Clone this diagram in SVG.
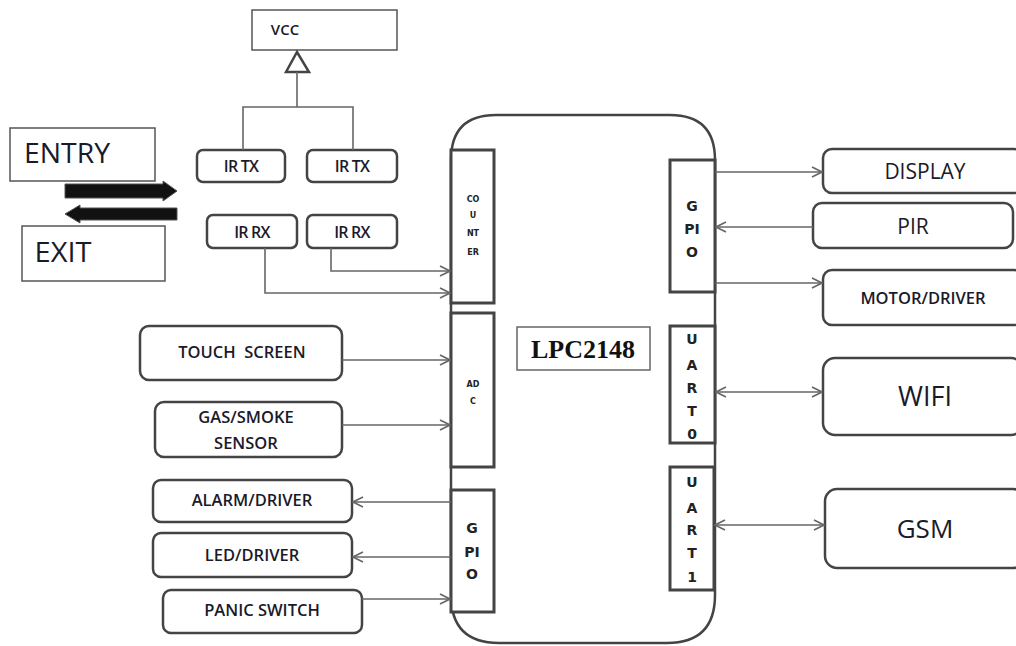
<svg xmlns="http://www.w3.org/2000/svg" width="1016" height="646" viewBox="0 0 1016 646">
<style>
.box{fill:#fff;stroke:#444;stroke-width:2.5}
.sq{fill:#fff;stroke:#555;stroke-width:1.5}
.mod{fill:#fff;stroke:#444;stroke-width:3}
.ln{fill:none;stroke:#666;stroke-width:1.6}
.t{font-family:"Open Sans","DejaVu Sans",sans-serif;fill:#1a1a2a;text-anchor:middle;font-weight:600}
.b{font-family:"Open Sans","DejaVu Sans",sans-serif;fill:#1a1a2a;text-anchor:middle;font-weight:normal}
.m{font-family:"DejaVu Sans",sans-serif;font-weight:bold;fill:#222;text-anchor:middle}
</style>
<defs>
<marker id="ah" viewBox="0 0 12 12" refX="11" refY="6" markerWidth="12" markerHeight="12" markerUnits="userSpaceOnUse" orient="auto-start-reverse">
<path d="M1,1 L11,6 L1,11" fill="none" stroke="#666" stroke-width="1.6"/>
</marker>
</defs>

<g id="lpc">
<path class="box" d="M451,160 Q451,115 496,115 L670,115 Q715,115 715,160 L715,595 Q715,643 667,643 L499,643 Q451,643 451,595 Z"/>
<rect x="517" y="327" width="133" height="43" fill="#fff" stroke="#666" stroke-width="1.5"/>
<text x="583" y="358" font-family="Liberation Serif,serif" font-weight="bold" font-size="26" fill="#111" text-anchor="middle">LPC2148</text>
</g>
<g id="counter">
<rect class="mod" x="451" y="150" width="43" height="153"/>
<text class="m" font-size="8" x="473" y="202">CO</text>
<text class="m" font-size="8" x="473" y="218">U</text>
<text class="m" font-size="8" x="473" y="236">NT</text>
<text class="m" font-size="8" x="473" y="255">ER</text>
</g>
<g id="adc">
<rect class="mod" x="451" y="313" width="43" height="154"/>
<text class="m" font-size="8" x="473" y="387">AD</text>
<text class="m" font-size="8" x="473" y="404">C</text>
</g>
<g id="gpio-left">
<rect class="mod" x="451" y="490" width="43" height="122"/>
<text class="m" font-size="14" x="472" y="533">G</text>
<text class="m" font-size="14" x="472" y="557">PI</text>
<text class="m" font-size="14" x="472" y="579">O</text>
</g>
<g id="gpio-right">
<rect class="mod" x="670" y="160" width="45" height="132"/>
<text class="m" font-size="14" x="692" y="211">G</text>
<text class="m" font-size="14" x="692" y="234">PI</text>
<text class="m" font-size="14" x="692" y="257">O</text>
</g>
<g id="uart0">
<rect class="mod" x="670" y="326" width="45" height="117"/>
<text class="m" font-size="14" x="692" y="344">U</text>
<text class="m" font-size="14" x="692" y="370">A</text>
<text class="m" font-size="14" x="692" y="393">R</text>
<text class="m" font-size="14" x="692" y="416">T</text>
<text class="m" font-size="14" x="692" y="439">0</text>
</g>
<g id="uart1">
<rect class="mod" x="670" y="467" width="44" height="123"/>
<text class="m" font-size="14" x="692" y="487">U</text>
<text class="m" font-size="14" x="692" y="513">A</text>
<text class="m" font-size="14" x="692" y="535">R</text>
<text class="m" font-size="14" x="692" y="558">T</text>
<text class="m" font-size="14" x="692" y="582">1</text>
</g>

<g id="vcc">
<rect class="sq" x="252" y="10" width="145" height="40"/>
<text class="t" x="285" y="35" font-size="15">VCC</text>
</g>
<g id="entry">
<rect class="sq" x="10" y="128" width="145" height="53"/>
<text class="b" x="67" y="163" font-size="28" textLength="86" lengthAdjust="spacingAndGlyphs">ENTRY</text>
</g>
<g id="exit">
<rect class="sq" x="22" y="226" width="143" height="55"/>
<text class="b" x="63" y="262" font-size="28" textLength="57" lengthAdjust="spacingAndGlyphs">EXIT</text>
</g>
<g id="irtx1"><rect class="box" x="197" y="150" width="88" height="32" rx="6"/><text class="t" x="241" y="172" font-size="16" letter-spacing="-0.8">IR TX</text></g>
<g id="irtx2"><rect class="box" x="307" y="150" width="90" height="32" rx="6"/><text class="t" x="352" y="172" font-size="16" letter-spacing="-0.8">IR TX</text></g>
<g id="irrx1"><rect class="box" x="207" y="215" width="90" height="33" rx="6"/><text class="t" x="252" y="238" font-size="16" letter-spacing="-0.8">IR RX</text></g>
<g id="irrx2"><rect class="box" x="307" y="215" width="90" height="33" rx="6"/><text class="t" x="352" y="238" font-size="16" letter-spacing="-0.8">IR RX</text></g>

<g id="touch"><rect class="box" x="140" y="326" width="202" height="54" rx="9"/><text class="t" x="242" y="358" font-size="16.5" xml:space="preserve">TOUCH  SCREEN</text></g>
<g id="gas"><rect class="box" x="155" y="402" width="187" height="55" rx="9"/><text class="t" x="246" y="423" font-size="16.5">GAS/SMOKE</text><text class="t" x="246" y="449" font-size="16.5">SENSOR</text></g>
<g id="alarm"><rect class="box" x="153" y="480" width="199" height="42" rx="8"/><text class="t" x="252" y="506" font-size="16.5">ALARM/DRIVER</text></g>
<g id="led"><rect class="box" x="153" y="533" width="199" height="44" rx="8"/><text class="t" x="252" y="561" font-size="16.5">LED/DRIVER</text></g>
<g id="panic"><rect class="box" x="163" y="590" width="199" height="43" rx="8"/><text class="t" x="262" y="616" font-size="16.5">PANIC SWITCH</text></g>

<g id="display"><rect class="box" x="823" y="149" width="200" height="44" rx="9"/><text class="b" x="925" y="179" font-size="21">DISPLAY</text></g>
<g id="pir"><rect class="box" x="813" y="203" width="200" height="45" rx="9"/><text class="b" x="913" y="234" font-size="21">PIR</text></g>
<g id="motor"><rect class="box" x="823" y="270" width="200" height="55" rx="9"/><text class="t" x="923" y="304" font-size="16.5">MOTOR/DRIVER</text></g>
<g id="wifi"><rect class="box" x="823" y="358" width="200" height="77" rx="12"/><text class="b" x="925" y="406" font-size="27">WIFI</text></g>
<g id="gsm"><rect class="box" x="825" y="489" width="200" height="79" rx="12"/><text class="b" x="925" y="538" font-size="26">GSM</text></g>

<g id="connectors">
<polygon points="286,72 297,52 309,72" fill="#fff" stroke="#444" stroke-width="2.5"/>
<path class="ln" d="M297,72 V107 M243,150 V107 H353 V150"/>
<path d="M65,184 H163 V181 L177,191 L163,201 V198 H65 Z" fill="#111" stroke="#555" stroke-width="1"/>
<path d="M177,208 H80 V205 L65,214 L80,223 V220 H177 Z" fill="#111" stroke="#555" stroke-width="1"/>
<path class="ln" d="M331,248 V271 H450" marker-end="url(#ah)"/>
<path class="ln" d="M265,248 V293 H450" marker-end="url(#ah)"/>
<path class="ln" d="M342,360 H450" marker-end="url(#ah)"/>
<path class="ln" d="M342,425 H450" marker-end="url(#ah)"/>
<path class="ln" d="M451,502 H353" marker-end="url(#ah)"/>
<path class="ln" d="M451,557 H353" marker-end="url(#ah)"/>
<path class="ln" d="M362,599 H450" marker-end="url(#ah)"/>
<path class="ln" d="M715,172 H822" marker-end="url(#ah)"/>
<path class="ln" d="M813,227 H716" marker-end="url(#ah)"/>
<path class="ln" d="M715,283 H822" marker-end="url(#ah)"/>
<path class="ln" d="M716,392 H822" marker-start="url(#ah)" marker-end="url(#ah)"/>
<path class="ln" d="M715,525 H824" marker-start="url(#ah)" marker-end="url(#ah)"/>
</g>
</svg>
